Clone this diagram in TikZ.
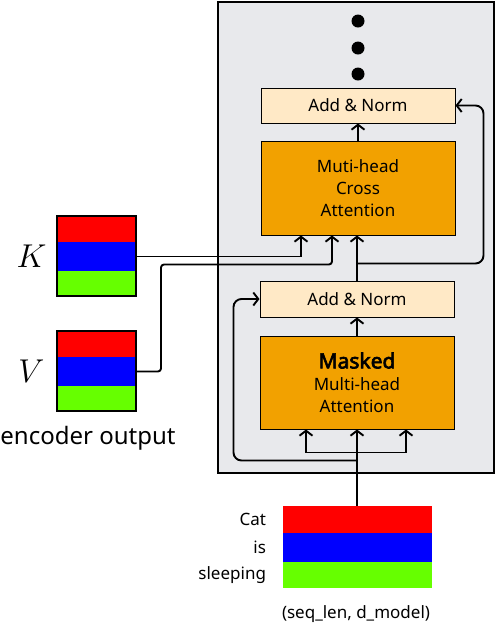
\documentclass[tikz,border=0pt]{standalone}
\usepackage{fix-cm}
\usepackage{fontspec}
\setmainfont{Noto Sans}[AutoFakeBold=3]
\usetikzlibrary{arrows.meta,positioning,calc,fit}
\definecolor{panelgrey}{HTML}{E8E9EC}
\definecolor{normfill}{HTML}{FFE9C6}
\definecolor{attnorange}{HTML}{F2A100}
\definecolor{embred}{HTML}{FF0000}
\definecolor{embblue}{HTML}{0000FF}
\definecolor{embgreen}{HTML}{66FF00}

\tikzset{
  normbox/.style={draw, line width=1pt, fill=normfill, minimum width=194pt,
    minimum height=35pt, inner sep=0pt, font=\fontsize{17}{20}\selectfont},
  attnbox/.style={draw, line width=1pt, fill=attnorange, minimum width=194pt,
    minimum height=94pt, inner sep=0pt, align=center,
    font=\fontsize{17}{22}\selectfont},
  kband/.style={inner sep=0pt, outer sep=0pt, minimum width=79pt},
  seqband/.style={inner sep=0pt, outer sep=0pt, minimum width=149pt},
  embframe/.style={draw, line width=2pt, inner sep=0pt},
  dot/.style={circle, fill=black, inner sep=0pt, minimum size=13pt},
  flow/.style={line width=1.9pt, -{Straight Barb[length=5pt,width=13pt]}},
  plain/.style={font=\fontsize{17}{20}\selectfont},
  mathlab/.style={font=\fontsize{33}{33}\selectfont},
}

\begin{document}
\begin{tikzpicture}[x=1pt, y=-1pt]
\useasboundingbox (0,0) rectangle (496,625);

% decoder block
\node[draw, line width=2pt, fill=panelgrey, minimum width=276pt,
  minimum height=471pt, inner sep=0pt] (panel) at (356,237.5) {};
\foreach \y [count=\i] in {21,48,74}
  \node[dot] (dot\i) at (358,\y) {};

\node[normbox] (topadd) at (358,105.5) {Add \& Norm};
\node[attnbox] (cross) at (358,188) {Muti-head\\Cross\\Attention};
\node[normbox, minimum height=36pt] (lowadd) at (357,299) {Add \& Norm};
\node[attnbox, minimum height=93pt] (masked) at (357,382.5)
  {{\fontsize{21}{24}\selectfont\bfseries Masked}\\Multi-head\\Attention};

% encoder output K and V
\node[kband, fill=embred, minimum height=26pt] (kr) at (96.5,229) {};
\node[kband, fill=embblue, minimum height=29pt, below=0pt of kr] (kb) {};
\node[kband, fill=embgreen, minimum height=25pt, below=0pt of kb] (kg) {};
\node[embframe, fit=(kr)(kg)] (kemb) {};
\node[mathlab, left=6pt of kemb] (klab) {$K$};

\node[kband, fill=embred, minimum height=26pt] (vr) at (96.5,344) {};
\node[kband, fill=embblue, minimum height=29pt, below=0pt of vr] (vb) {};
\node[kband, fill=embgreen, minimum height=25pt, below=0pt of vb] (vg) {};
\node[embframe, fit=(vr)(vg)] (vemb) {};
\node[mathlab, left=8pt of vemb] (vlab) {$V$};

\node[font=\fontsize{24}{27}\selectfont] (enclab) at (88,438) {encoder output};

% decoder input
\node[seqband, fill=embred, minimum height=27pt] (er) at (357,519.5) {};
\node[seqband, fill=embblue, minimum height=29pt, below=0pt of er] (eb) {};
\node[seqband, fill=embgreen, minimum height=26pt, below=0pt of eb] (eg) {};
\node[plain, left=13pt of er] (wcat) {Cat};
\node[plain, left=13pt of eb] (wis) {is};
\node[plain, left=13pt of eg] (wsleep) {sleeping};
\node[plain] (shape) at (356,614) {(seq\_len, d\_model)};

% connectors
\draw[flow] (er.north) -- (masked.south);
\coordinate (fork) at ($(masked.south)+(0,23)$);
\draw[flow] (fork) -| ($(masked.south)+(-51,0)$);
\draw[flow] (fork) -| ($(masked.south)+(49,0)$);
\draw[flow] (masked.north) -- (lowadd.south);
\coordinate (resb) at ($(masked.south)+(0,31)$);
\draw[flow, rounded corners=8pt] (resb) -| ($(lowadd.west)+(-26,0)$) -- (lowadd.west);

\draw[flow] (lowadd.north) -- (lowadd.north |- cross.south);
\coordinate (rest) at ($(lowadd.north)+(0,-17)$);
\draw[flow, rounded corners=8pt] (rest) -| ($(topadd.east)+(28,0)$) -- (topadd.east);
\draw[flow] (kemb.east |- kb) -| ($(cross.south)+(-57,0)$);
\draw[flow, rounded corners=3pt] (vemb.east |- vb) -- ++(24,0)
  |- ($(cross.south)+(-26,29)$) -- ($(cross.south)+(-26,0)$);
\draw[flow] (cross.north) -- (topadd.south);
\end{tikzpicture}
\end{document}
